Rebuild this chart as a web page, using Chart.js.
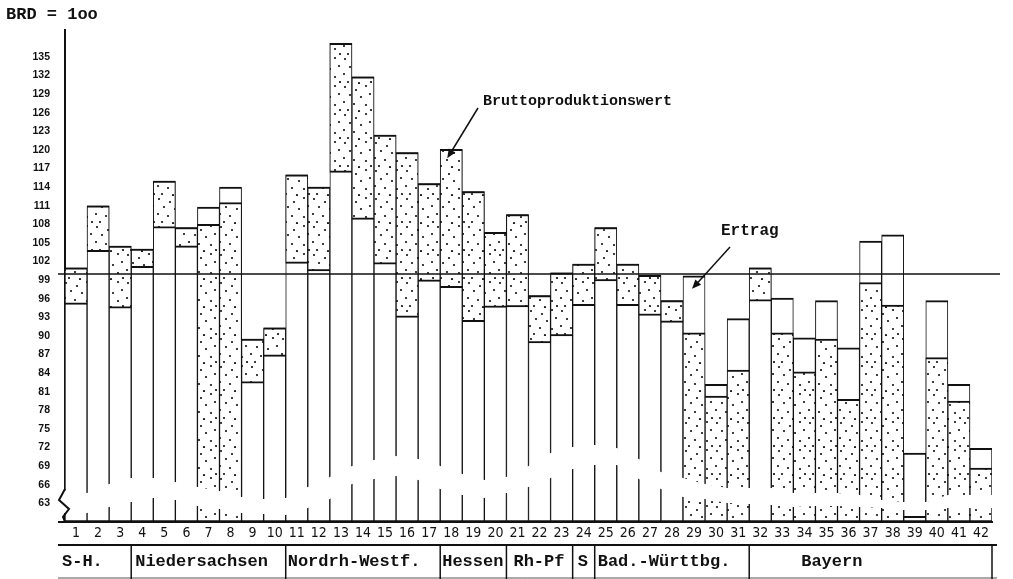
<!DOCTYPE html>
<html>
<head>
<meta charset="utf-8">
<script src="https://cdn.jsdelivr.net/npm/chart.js@4.4.1/dist/chart.umd.min.js"></script>
<style>
  html, body { margin: 0; padding: 0; background: #fff; }
</style>
</head>
<body>
<canvas id="chart" width="1013" height="579"></canvas>
<script>
var districts = ['1','2','3','4','5','6','7','8','9','10','11','12','13','14','15','16','17','18','19','20','21',
                 '22','23','24','25','26','27','28','29','30','31','32','33','34','35','36','37','38','39','40','41','42']
var bruttoproduktionswert = [101, 111, 104.5, 104, 115, 107.5, 108, 111.5, 89.5, 91.3,
                             116, 114, 137.2, 131.8, 122.4, 119.6, 114.6, 120.1, 113.3, 106.7,
                             109.6, 96.5, 100.2, 101.6, 107.5, 101.6, 99.8, 95.7, 90.5, 80.3,
                             84.5, 101, 90.5, 84.2, 89.5, 79.8, 98.6, 95, 60.9, 86.5, 79.5, 68.7]
var ertrag = [95.1, 103.6, 94.5, 101, 107.4, 104.3, 110.8, 114, 82.4, 86.7,
              101.7, 100.5, 116.4, 108.8, 101.6, 93, 98.8, 97.8, 92.3, 94.6,
              94.7, 88.9, 90, 94.9, 98.9, 94.9, 93.3, 92.2, 99.7, 82.2,
              92.8, 95.6, 96.1, 89.7, 95.7, 88.1, 105.3, 106.3, 71.1, 95.7, 82.2, 71.9]
var laender = ['S-H.', 'Niedersachsen', 'Nordrh-Westf.', 'Hessen', 'Rh-Pf', 'S', 'Bad.-Württbg.', 'Bayern']
var laenderSize = [3, 7, 7, 3, 3, 1, 7, 11]
var yTicks = [63, 66, 69, 72, 75, 78, 81, 84, 87, 90, 93, 96, 99, 102, 105, 108, 111, 114, 117, 120, 123, 126, 129, 132, 135]
var base = 60

// white band of the axis break, px above the x axis at each bar edge
var breakBand = [[32,9],[29,9],[38,15],[44,20],[44,24],[40,22],[35,16],[31,13],[25,9],[23,8],[24,7],
                 [35,14],[45,23],[56,38],[62,43],[66,46],[63,42],[56,33],[48,27],[42,24],[45,29],
                 [56,35],[69,44],[75,53],[77,57],[74,57],[63,43],[50,33],[44,25],[38,23],[34,19],
                 [34,18],[34,17],[29,15],[29,16],[29,16],[27,15],[22,14],[20,12],[20,12],[27,14],[27,14],[27,14]]
var laenderIndent = [-3, 4, 2, 2, 7, 5, 3, 52]

var mono = '"Liberation Mono", "DejaVu Sans Mono", monospace'

function makeDots() {
    var c = document.createElement('canvas')
    c.width = 31
    c.height = 28
    var g = c.getContext('2d')
    g.fillStyle = '#fff'
    g.fillRect(0, 0, 31, 28)
    g.fillStyle = '#111'
    var pts = [[3,2],[14,5],[24,1],[8,10],[19,12],[28,9],[2,17],[12,19],[24,20],[6,25],[17,26],[29,25]]
    pts.forEach(function(p) {
        g.beginPath()
        g.arc(p[0] + 1, p[1] + 1, 1.1, 0, Math.PI * 2)
        g.fill()
    })
    return g.createPattern(c, 'repeat')
}

var outlineData = bruttoproduktionswert.map(function(v, i) { return [base, Math.max(v, ertrag[i])] })
var stippleData = bruttoproduktionswert.map(function(v, i) {
    return v > ertrag[i] ? [ertrag[i], v] : [base, v]
})

function arrow(ctx, x1, y1, x2, y2) {
    var ang = Math.atan2(y2 - y1, x2 - x1)
    ctx.beginPath()
    ctx.moveTo(x1, y1)
    ctx.lineTo(x2 - 6 * Math.cos(ang), y2 - 6 * Math.sin(ang))
    ctx.stroke()
    ctx.beginPath()
    ctx.moveTo(x2, y2)
    ctx.lineTo(x2 - 10 * Math.cos(ang - 0.4), y2 - 10 * Math.sin(ang - 0.4))
    ctx.lineTo(x2 - 10 * Math.cos(ang + 0.4), y2 - 10 * Math.sin(ang + 0.4))
    ctx.closePath()
    ctx.fill()
}

var decor = {
    id: 'decor',
    afterDatasetsDraw(chart) {
        var ctx = chart.ctx
        var a = chart.chartArea
        var x = chart.scales.x
        var y = chart.scales.y
        var step = (a.right - a.left) / districts.length
        ctx.save()

        // axis break band
        ctx.fillStyle = '#fff'
        ctx.beginPath()
        breakBand.forEach(function(b, i) {
            var px = a.left + step * i
            if (i === 0) px -= 3
            if (i === breakBand.length - 1) px += 3
            if (i === 0) ctx.moveTo(px, a.bottom - b[0])
            else ctx.lineTo(px, a.bottom - b[0])
        })
        for (var i = breakBand.length - 1; i >= 0; i--) {
            var px = a.left + step * i
            if (i === 0) px -= 3
            if (i === breakBand.length - 1) px += 3
            ctx.lineTo(px, a.bottom - breakBand[i][1])
        }
        ctx.closePath()
        ctx.fill()

        ctx.strokeStyle = '#111'
        ctx.fillStyle = '#111'
        ctx.lineWidth = 2
        // zigzag on the y axis
        ctx.beginPath()
        ctx.moveTo(a.left, a.bottom - 33)
        ctx.lineTo(a.left - 6, a.bottom - 22)
        ctx.lineTo(a.left + 4, a.bottom - 13)
        ctx.lineTo(a.left - 2, a.bottom - 5)
        ctx.lineTo(a.left, a.bottom)
        ctx.stroke()

        // x axis extension to the left
        ctx.beginPath()
        ctx.moveTo(a.left - 7, a.bottom)
        ctx.lineTo(a.left, a.bottom)
        ctx.stroke()

        // BRD = 100 line
        var y100 = y.getPixelForValue(100)
        ctx.lineWidth = 1.5
        ctx.beginPath()
        ctx.moveTo(a.left - 7, y100)
        ctx.lineTo(a.right + 8, y100)
        ctx.stroke()

        // annotations
        ctx.font = 'bold 15px ' + mono
        ctx.textBaseline = 'middle'
        ctx.textAlign = 'left'
        ctx.fillText('Bruttoproduktionswert', 483, 101)
        var b18 = x.getPixelForValue(17)
        arrow(ctx, 478, 108, b18 - 4, y.getPixelForValue(bruttoproduktionswert[17]) + 9)
        ctx.font = 'bold 16px ' + mono
        ctx.fillText('Ertrag', 721, 231)
        var b29 = x.getPixelForValue(28)
        arrow(ctx, 730, 247, b29 - 2, y.getPixelForValue(ertrag[28]) + 13)

        ctx.font = 'bold 17px ' + mono
        ctx.fillText('BRD = 1oo', 6, 15)

        // Laender row
        var top = 545
        ctx.lineWidth = 2
        ctx.beginPath()
        ctx.moveTo(58, top)
        ctx.lineTo(a.right + 5, top)
        ctx.stroke()
        ctx.lineWidth = 1
        ctx.strokeStyle = '#555'
        ctx.beginPath()
        ctx.moveTo(58, 578)
        ctx.lineTo(a.right + 5, 578)
        ctx.stroke()
        ctx.strokeStyle = '#111'
        ctx.lineWidth = 1.5
        ctx.font = 'bold 17px ' + mono
        var idx = 0
        laender.forEach(function(name, k) {
            var x0 = a.left + step * idx
            var x1 = a.left + step * (idx + laenderSize[k])
            ctx.beginPath()
            ctx.moveTo(x1, top)
            ctx.lineTo(x1, 579)
            ctx.stroke()
            ctx.fillText(name, x0 + laenderIndent[k], 562)
            idx += laenderSize[k]
        })
        ctx.restore()
    }
}

var dots = makeDots()
var barStyle = {
    borderColor: '#111',
    borderWidth: { top: 2, bottom: 2, left: 1, right: 1 },
    borderSkipped: false,
    grouped: false,
    barPercentage: 1,
    categoryPercentage: 1
}

new Chart(document.getElementById('chart'), {
    type: 'bar',
    data: {
        labels: districts,
        datasets: [
            Object.assign({ label: 'Bruttoproduktionswert', data: stippleData, backgroundColor: dots }, barStyle),
            Object.assign({ label: 'Ertrag', data: outlineData, backgroundColor: '#fff' }, barStyle)
        ]
    },
    options: {
        responsive: false,
        animation: false,
        devicePixelRatio: 1,
        layout: { padding: { top: 30, right: 21, left: 0, bottom: 0 } },
        plugins: { legend: { display: false }, tooltip: { enabled: false } },
        scales: {
            x: {
                grid: { display: false, drawTicks: false },
                border: { display: true, color: '#111', width: 2 },
                ticks: {
                    color: '#111',
                    font: { family: '"Liberation Sans Narrow", "DejaVu Sans Condensed", Arial, sans-serif', size: 14 },
                    padding: 3,
                    autoSkip: false,
                    maxRotation: 0
                },
                afterFit(s) { s.height = 57 }
            },
            y: {
                min: base,
                max: 139.35,
                grid: { display: false, drawTicks: false },
                border: { display: true, color: '#111', width: 2 },
                ticks: {
                    color: '#111',
                    font: { family: '"Liberation Sans", Arial, sans-serif', size: 10.5, weight: 'bold' },
                    padding: 15,
                    autoSkip: false
                },
                afterBuildTicks(s) { s.ticks = yTicks.map(function(v) { return { value: v } }) },
                afterFit(s) { s.width = 65 }
            }
        }
    },
    plugins: [decor]
})
</script>
</body>
</html>
